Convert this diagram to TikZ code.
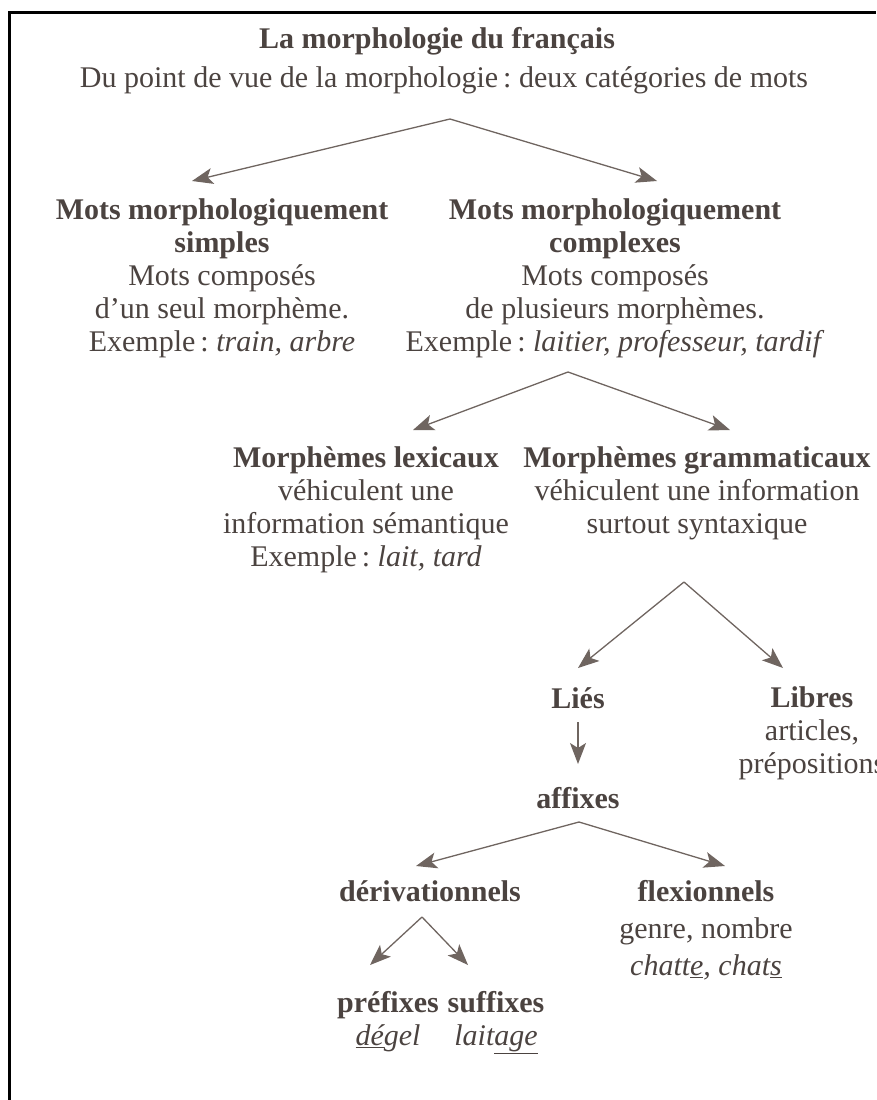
\documentclass[tikz,border=0pt]{standalone}
\usepackage{fontspec}
\setmainfont{Liberation Serif}
\usepackage{xcolor}
\usetikzlibrary{arrows.meta,positioning}
\definecolor{ink}{HTML}{4B4340}
\definecolor{stem}{HTML}{6F6560}
\tikzset{
  txt/.style={text=ink, align=center, inner sep=0pt, anchor=base, font=\fontsize{30}{33}\selectfont},
  arr/.style={draw=stem, line width=1.3pt, -{Stealth[length=21pt,width=16pt,inset=5pt]}},
  frame/.style={draw=black, line width=2.6pt},
}
\newcommand{\hd}[1]{\textbf{#1}}
\begin{document}
\frenchspacing
\begin{tikzpicture}[x=1pt,y=-1pt]
  \useasboundingbox (0,0) rectangle (876,1100);
  \draw[frame] (9.5,1100) -- (9.5,12.5) -- (876,12.5);
  % titre
  \node[txt] (titre) at (437,48) {\hd{La morphologie du français}};
  \node[txt] (vue) at (444,87) {Du point de vue de la morphologie\,: deux catégories de mots};
  % deux categories (base = derniere ligne)
  \node[txt] (simples) at (222,351) {\hd{Mots morphologiquement}\\\hd{simples}\\Mots composés\\d’un seul morphème.\\Exemple\,: \textit{train, arbre}};
  \node[txt] (complexes) at (615,351) {\hd{Mots morphologiquement}\\\hd{complexes}\\Mots composés\\de plusieurs morphèmes.\\Exemple\,: \textit{laitier, professeur, tardif}};
  % morphemes
  \node[txt] (lexicaux) at (366,566) {\hd{Morphèmes lexicaux}\\véhiculent une\\information sémantique\\Exemple\,: \textit{lait, tard}};
  \node[txt] (gramm) at (697,533) {\hd{Morphèmes grammaticaux}\\véhiculent une information\\surtout syntaxique};
  \node[txt] (lies) at (578,708) {\hd{Liés}};
  \node[txt] (libres) at (812,773) {\hd{Libres}\\articles,\\prépositions};
  \node[txt] (affixes) at (578,808) {\hd{affixes}};
  % affixes
  \node[txt] (deriv) at (430,901) {\hd{dérivationnels}};
  \node[txt, font=\fontsize{30}{37}\selectfont] (flex) at (706,975) {\hd{flexionnels}\\genre, nombre\\\textit{chatt\underline{e}, chat\underline{s}}};
  \node[txt] (pref) at (388,1045) {\hd{préfixes}\\\textit{\underline{dé}gel}};
  \node[txt] (suff) at (496,1045) {\hd{suffixes}\\\textit{lait\underline{age}}};
  % fleches
  \coordinate (a1) at (450,119);
  \coordinate (a1g) at (192,181);
  \coordinate (a1d) at (657,181);
  \coordinate (a2) at (568,372);
  \coordinate (a2g) at (413,430);
  \coordinate (a2d) at (730,430);
  \coordinate (a3) at (684,582);
  \coordinate (a3g) at (578,668);
  \coordinate (a3d) at (783,668);
  \coordinate (a4) at (579,822);
  \coordinate (a4g) at (416,866);
  \coordinate (a4d) at (725,866);
  \coordinate (a5) at (422,917);
  \coordinate (a5g) at (370,965);
  \coordinate (a5d) at (468,965);
  \draw[arr] (a1) -- (a1g);
  \draw[arr] (a1) -- (a1d);
  \draw[arr] (a2) -- (a2g);
  \draw[arr] (a2) -- (a2d);
  \draw[arr] (a3) -- (a3g);
  \draw[arr] (a3) -- (a3d);
  \draw[arr] (lies.south |- 0,722) -- (lies.south |- 0,764);
  \draw[arr] (a4) -- (a4g);
  \draw[arr] (a4) -- (a4d);
  \draw[arr] (a5) -- (a5g);
  \draw[arr] (a5) -- (a5d);
\end{tikzpicture}
\end{document}
